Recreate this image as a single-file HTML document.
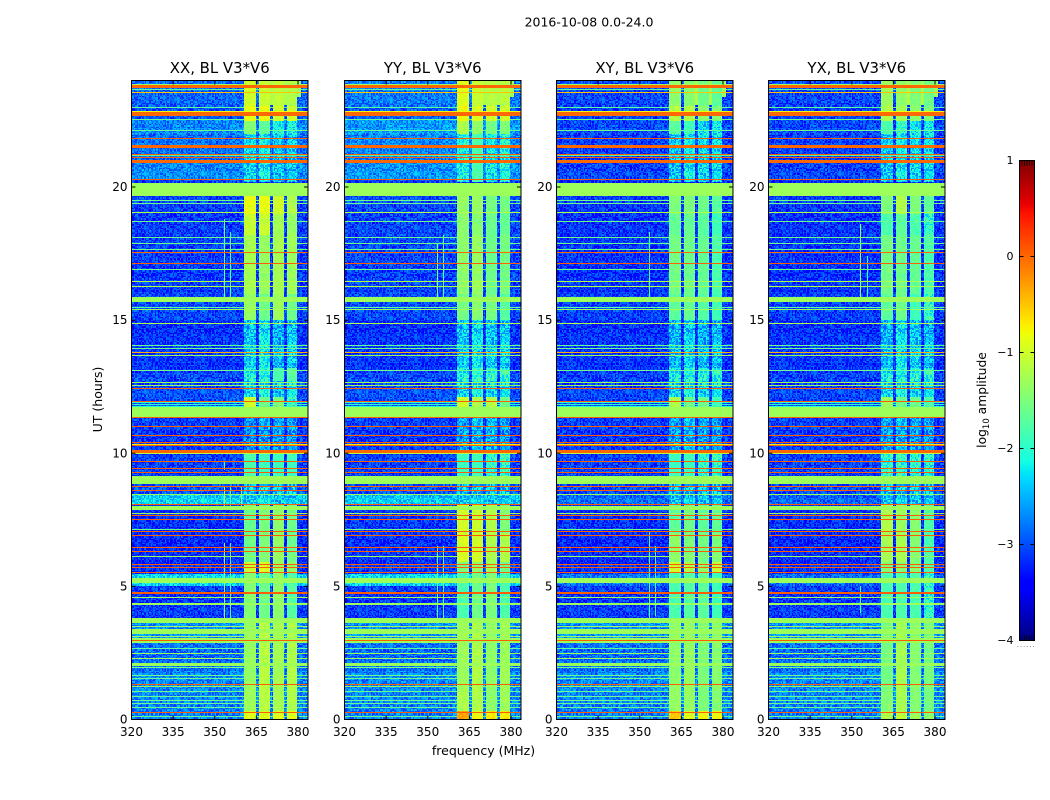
<!DOCTYPE html>
<html lang="en">
<head>
<meta charset="utf-8">
<title>2016-10-08 V3*V6 dynamic spectra</title>
<style>
html,body{margin:0;padding:0;background:#fff;}
#figure{position:relative;width:1050px;height:800px;overflow:hidden;background:#fff;font-family:"DejaVu Sans","Liberation Sans",sans-serif;}
canvas{position:absolute;display:block;image-rendering:pixelated;}
svg{position:absolute;left:0;top:0;}
text{font-family:"DejaVu Sans","Liberation Sans",sans-serif;fill:#000;}
</style>
</head>
<body>
<div id="figure">
<svg id="overlay" width="1050" height="800">
  <text x="589" y="26.5" font-size="12.5" text-anchor="middle">2016-10-08 0.0-24.0</text>
  <text x="483.5" y="755" font-size="12.5" text-anchor="middle">frequency (MHz)</text>
  <text transform="translate(102,399.5) rotate(-90)" font-size="12.5" text-anchor="middle">UT (hours)</text>
  <text transform="translate(986,400) rotate(-90)" font-size="12.3" text-anchor="middle">log<tspan font-size="8.5" dy="3">10</tspan><tspan dy="-3"> amplitude</tspan></text>
  <text x="1026" y="647" font-size="8" letter-spacing="0.6" text-anchor="middle" style="fill:#888">......</text>
</svg>
</div>
<script>
// Panels
const panelTitles = ["XX, BL V3*V6", "YY, BL V3*V6", "XY, BL V3*V6", "YX, BL V3*V6"];
// Axis ticks
const freqTicks = [320, 335, 350, 365, 380];
const utTicks = [0, 5, 10, 15, 20];
const colorbarTicks = [1, 0, -1, -2, -3, -4];
const colorbarMinorTicks = [1, 0.93, 0.86, 0.79, 0.72, -3.72, -3.79, -3.86, -3.93, -4];

// Receiver strips in MHz
const stripStart = [360.5, 365.8, 370.8, 375.9];
const stripEnd = [364.7, 369.7, 374.8, 379.8];

// Time segments [UT high, UT low] for strip levels
const stripSegments = [[24,23.05],[23.05,22.5],[22.5,22],[22,20.2],[19.7,19],[19,18.2],[18.2,16],[16,15],[15,13.2],[13.2,12.7],[12.7,12.1],[12.1,11.7],[11.35,10.05],[10.05,9.1],[8.85,8.1],[8.1,7],[7,5.9],[5.9,5.5],[5.5,3.7],[3.6,1],[1,0.3],[0.3,0]];

// log10 amplitude per strip, one row per segment
const xxStrips = [[-1,-1.05,-1.1,-1.2],[-.85,-.85,-1,-1],[-1.45,-1.7,-2.1,-2.2],[-2.3,-2.2,-2.4,-2.4],[-.85,-.85,-1,-1.2],[-1.05,-1.05,-1.25,-1.35],[-1.25,-1.35,-1.25,-1.3],[-1.35,-1.6,-1.3,-1.6],[-2.4,-2.25,-2.5,-2.4],[-2.1,-2.05,-1.8,-1.7],[-2.3,-2.2,-2.4,-2.2],[-1,-1.6,-1.5,-2],[-2.7,-2.6,-2.6,-2.6],[-1.8,-1.9,-1.9,-1.9],[-2.4,-2.3,-2.4,-2.4],[-1.65,-1.55,-1.4,-1.6],[-1.6,-1.5,-1.35,-1.6],[-1.05,-.95,-1.3,-1.4],[-1.45,-1.6,-1.4,-1.75],[-1.35,-1.15,-1.25,-1.2],[-1.3,-1.15,-1.25,-1.2],[-.9,-.9,-.9,-.9]];
const yyStrips = [[-.9,-1.05,-1.15,-1.15],[-.8,-.95,-1,-1],[-1.2,-1.4,-1.55,-1.5],[-2.1,-1.8,-2.2,-2.1],[-1.35,-1.35,-1.55,-1.55],[-1.4,-1.45,-1.6,-1.65],[-1.4,-1.35,-1.6,-1.55],[-1.55,-1.45,-1.55,-1.75],[-2.4,-2.3,-2.4,-2.4],[-2.1,-1.95,-1.95,-1.95],[-2.3,-2.2,-2.3,-2.3],[-1,-1.2,-1.15,-1.6],[-2.6,-2.5,-2.5,-2.6],[-1.9,-1.9,-2,-2],[-2.4,-2.4,-2.4,-2.4],[-1,-1.05,-1.2,-1.5],[-.95,-1,-1.2,-1.2],[-1.5,-1.4,-1.3,-1.6],[-1.8,-1.6,-1.5,-1.8],[-1.3,-1.2,-1.4,-1.3],[-1.2,-1.2,-1.4,-1.3],[-.3,-.8,-.7,-.7]];
const xyStrips = [[-1.4,-1.45,-1.6,-1.7],[-1.15,-1.2,-1.4,-1.5],[-1.7,-1.9,-2.3,-2.3],[-2.4,-2.2,-2.3,-2.3],[-1.5,-1.5,-1.6,-1.75],[-1.65,-1.65,-1.7,-1.9],[-1.55,-1.6,-1.65,-1.8],[-1.7,-1.65,-1.75,-1.9],[-2.5,-2.4,-2.5,-2.5],[-2.15,-2.05,-2.05,-2.05],[-2.3,-2.2,-2.3,-2.3],[-1.2,-1.6,-1.6,-1.9],[-2.6,-2.5,-2.6,-2.6],[-1.9,-1.9,-2,-2],[-2.4,-2.4,-2.4,-2.4],[-1.7,-1.6,-1.7,-1.7],[-1.4,-1.5,-1.55,-1.5],[-1,-1.2,-1.4,-1.1],[-1.8,-1.75,-1.7,-1.9],[-1.4,-1.35,-1.5,-1.45],[-1.35,-1.35,-1.5,-1.45],[-.5,-.9,-.8,-.8]];
const yxStrips = [[-1.3,-1.4,-1.5,-1.6],[-1.2,-1.3,-1.4,-1.5],[-1.8,-2,-2.2,-2.3],[-2.4,-2.2,-2.3,-2.3],[-1.5,-1.2,-1.5,-1.7],[-1.8,-1.7,-1.8,-2],[-1.55,-1.6,-1.65,-1.8],[-1.7,-1.6,-1.9,-2],[-2.5,-2.3,-2.4,-2.5],[-2.15,-2.1,-2.05,-2],[-2.3,-2.2,-2.3,-2.3],[-1.3,-1.6,-1.6,-1.8],[-2.6,-2.5,-2.6,-2.6],[-2,-2,-2.05,-2.1],[-2.4,-2.4,-2.4,-2.4],[-1.2,-1.35,-1.45,-1.8],[-1.25,-1.25,-1.45,-1.8],[-1.45,-1.45,-1.45,-1.8],[-1.8,-1.8,-1.8,-2],[-1.55,-1.25,-1.45,-1.55],[-1.45,-1.25,-1.45,-1.55],[-1.2,-1.1,-1.3,-1.4]];

// Background level: [UT high, UT low, XX, YY, XY, YX]
const floorLevels = [[24,23,-2.9,-2.8,-3.05,-3.05],[23,22.55,-3,-2.95,-3.1,-3.1],[22.55,22,-2.75,-2.65,-3.05,-3.05],[22,21,-2.85,-2.75,-3.1,-3.1],[21,20.3,-2.7,-2.65,-3.05,-3.05],[20.3,19.7,-3.05,-3.05,-3.15,-3.15],[19.7,16,-3.1,-3.05,-3.15,-3.15],[16,15,-3.05,-3.05,-3.1,-3.1],[15,13,-3.15,-3.15,-3.15,-3.15],[13,11.7,-3,-3,-3.05,-3.05],[11.7,9.1,-3.1,-3.1,-3.1,-3.1],[9.1,8.42,-2.95,-2.95,-3,-3],[8.42,8.1,-2.35,-2.4,-2.85,-2.9],[8.1,5.45,-3.2,-3.15,-3.2,-3.2],[5.45,5,-2.35,-2.35,-2.85,-2.9],[5,3.6,-3.1,-3.1,-3.1,-3.1],[3.6,3,-2.7,-2.7,-2.7,-2.7],[3,1.8,-2.85,-2.85,-2.85,-2.85],[1.8,0,-2.75,-2.75,-2.75,-2.75]];

// Broadband RFI: [UT high, UT low, log10 amplitude]
const rfiBands = [[23.82,23.74,0],[22.8,22.75,0],[22.73,22.69,0],[21.57,21.49,0],[21,20.93,0],[20.16,19.71,-1.3],[15.86,15.7,-1.3],[11.7,11.37,-1.3],[10.11,10.03,0],[9.12,8.85,-1.3],[8,7.88,-1.3],[5.28,5.13,-1.3],[4.77,4.72,.05],[4.35,4.3,-1.3],[3.78,3.63,-1.3],[3.36,3.27,-1.3],[3.03,2.87,-1.3],[2.07,2,-1.3]];

// Single-row RFI lines: [UT, log10 amplitude]
const rfiLines = [[23.86,-1.3],[23.67,-1.7],[23.56,-.5],[23.02,-1.7],[22.85,-.8],[22.56,-1.6],[22.12,-1.6],[21.82,.05],[21.25,.05],[21.18,-1.7],[21.12,.05],[20.31,.05],[19.49,-1.6],[19.41,-1.6],[19.07,-1.2],[18.73,-1.6],[18.13,-1.6],[17.9,-1.6],[17.65,-1.6],[17.54,0],[17.14,.05],[16.92,-1.6],[16.44,-1.2],[16.28,-1.2],[15.48,-1.7],[15.39,-1.3],[14.88,-1.2],[14.05,-1.6],[13.95,-1.6],[13.77,-.4],[13.67,-1.3],[13.1,-1.6],[12.64,-1.3],[12.54,-1.3],[12.42,.05],[11.96,.05],[11.9,-2],[11.82,-2],[11.75,-2],[11.36,.05],[11.02,.05],[10.68,.05],[10.39,.05],[10.34,-.7],[10.28,.05],[9.98,-1.1],[9.69,.05],[9.41,.05],[9.27,.05],[8.73,.05],[8.59,.05],[8.44,-1.3],[8.08,.05],[7.74,-1.3],[7.66,.05],[7.49,.05],[7.12,-1.6],[7.04,.05],[6.89,.05],[6.44,.05],[6.29,.05],[6.1,-1.3],[5.83,.05],[5.71,.05],[5.5,.05],[4.56,-1.3],[3.48,-1.3],[3.2,-1.3],[3.12,-1.3],[2.95,.05],[2.65,-1.7],[2.46,-1.3],[2.27,-1.3],[1.94,-1.6],[1.65,-1.6],[1.52,-1.6],[1.31,.05],[1.23,-1.3],[1.05,-1.6],[.86,-1.6],[.7,-1.6],[.57,-1.6],[.42,-1.6],[.23,.05],[.11,-1.6]];

// Narrow-band lines: [panel, MHz, UT high, UT low, level]
const narrowLines = [[0,353.3,18.8,15.9,-1.6],[0,355.7,18.3,15.9,-1.7],[0,353.3,6.6,3.65,-1.4],[0,355.7,6.6,3.65,-1.7],[0,353.3,8.7,8.05,-1.3],[0,355.7,8.7,8.05,-1.7],[0,359.7,8.7,8.05,-1.5],[0,353.3,9.7,9.4,-1.7],[1,353.5,17.9,15.9,-1.5],[1,355.7,18.2,15.9,-1.7],[1,353.5,6.5,3.7,-1.7],[1,355.7,6.5,3.7,-1.7],[2,353.3,18.3,15.9,-1.8],[2,353.3,7,3.7,-1.8],[2,355.7,6.5,3.9,-1.8],[3,353.1,18.6,15.9,-1.4],[3,355.7,17.4,15.9,-1.9],[3,353.1,5,4,-1.8]];

// Small regions: [UT high, UT low, MHz low, MHz high, level]
const topPatches = [[24,23.1,369.7,370.8,-1.2],[24,23.1,374.8,375.9,-1.2],[24,23.4,379.8,381,-1.3]];

// Hand-typed speckle table for the pixel-level grain
const speckle = [.6,-.9,.2,1,-.4,-.7,.8,-.1,.4,-1,.5,.1,-.6,.9,-.3,-.8,.3,.7,-.5,0,1,-.2,-.9,.6,.1,-.7,.4,-.4,.9,-.6,.2,.7,-1,.3,-.1,.8,-.5,.5,-.8,.1,.6];

const stripTables = [xxStrips, yyStrips, xyStrips, yxStrips];

// Geometry
const panelLeft = [131.5, 344.5, 556.5, 768.5];
const panelWidth = 176.5;
const plotTop = 80.5;
const plotBottom = 719.5;
const gridCols = 176;
const gridRows = 638;
const figure = document.getElementById('figure');
const overlay = document.getElementById('overlay');
const NS = 'http://www.w3.org/2000/svg';

function xScale(panel, mhz) { return panelLeft[panel] + (mhz - 320) * 2.775; }
function yScale(ut) { return plotBottom - (ut / 24) * (plotBottom - plotTop); }
function mhzOfCol(c) { return 320 + ((c + 0.5) / gridCols) * panelWidth / 2.775; }
function rowOfUT(ut) { return Math.min(gridRows - 1, Math.max(0, Math.floor((24 - ut) / 24 * gridRows))); }
function utOfRow(r) { return 24 - (r + 0.5) / gridRows * 24; }
function clamp01(v) { return Math.max(0, Math.min(1, v)); }
function jet(t) {
  const r = t < .35 ? 0 : t < .66 ? (t - .35) / .31 : t < .89 ? 1 : 1 - (t - .89) / .11 * .5;
  const g = t < .125 ? 0 : t < .375 ? (t - .125) / .25 : t < .64 ? 1 : t < .91 ? 1 - (t - .64) / .27 : 0;
  const b = t < .11 ? .5 + t / .11 * .5 : t < .34 ? 1 : t < .65 ? 1 - (t - .34) / .31 : 0;
  return [r * 255, g * 255, b * 255];
}
function colorOf(level) { return jet(clamp01((level + 4) / 5)); }

function drawHeatmap(panel) {
  const grid = new Float32Array(gridCols * gridRows);
  const strips = stripTables[panel];
  for (let r = 0; r < gridRows; r++) {
    const ut = utOfRow(r);
    let floor = -3;
    floorLevels.forEach(function (seg) { if (ut <= seg[0] && ut > seg[1]) floor = seg[2 + panel]; });
    let seg = -1;
    stripSegments.forEach(function (s, i) { if (ut <= s[0] && ut > s[1]) seg = i; });
    const gr = Math.floor(r / 1.33);
    for (let c = 0; c < gridCols; c++) {
      const mhz = mhzOfCol(c);
      let level = floor, amp = .35;
      if (seg >= 0) {
        stripStart.forEach(function (start, i) {
          if (mhz >= start && mhz < stripEnd[i]) {
            level = strips[seg][i];
            amp = level < -1.9 ? .42 : .12;
          }
        });
      }
      const gc = Math.floor(c / 1.4);
      const grain = speckle[(gc * gc * 3 + gr * gr * 5 + gc * gr) % speckle.length];
      grid[r * gridCols + c] = level + grain * amp;
    }
  }
  topPatches.forEach(function (p) {
    for (let r = rowOfUT(p[0]); r <= rowOfUT(p[1]); r++) {
      for (let c = 0; c < gridCols; c++) {
        const mhz = mhzOfCol(c);
        if (mhz >= p[2] && mhz < p[3]) grid[r * gridCols + c] = p[4];
      }
    }
  });
  rfiBands.forEach(function (b) {
    for (let r = rowOfUT(b[0]); r <= rowOfUT(b[1]); r++) {
      for (let c = 0; c < gridCols; c++) grid[r * gridCols + c] = b[2];
    }
  });
  rfiLines.forEach(function (line) {
    const r = rowOfUT(line[0]);
    for (let c = 0; c < gridCols; c++) grid[r * gridCols + c] = Math.max(line[1], grid[r * gridCols + c]);
  });
  narrowLines.forEach(function (n) {
    if (n[0] !== panel) return;
    const c = Math.floor((n[1] - 320) * 2.775 / panelWidth * gridCols);
    for (let r = rowOfUT(n[2]); r <= rowOfUT(n[3]); r++) grid[r * gridCols + c] = Math.max(n[4], grid[r * gridCols + c]);
  });

  const cv = document.createElement('canvas');
  
  
  cv.width = gridCols;
  cv.height = gridRows;
  cv.style.left = Math.round(panelLeft[panel]) + 'px';
  cv.style.top = '81px';
  cv.style.width = gridCols + 'px';
  cv.style.height = gridRows + 'px';
  const ctx = cv.getContext('2d');
  const img = ctx.createImageData(gridCols, gridRows);
  for (let i = 0; i < grid.length; i++) {
    const col = colorOf(grid[i]);
    img.data[i * 4] = col[0];
    img.data[i * 4 + 1] = col[1];
    img.data[i * 4 + 2] = col[2];
    img.data[i * 4 + 3] = 255;
  }
  ctx.putImageData(img, 0, 0);
  figure.insertBefore(cv, overlay);
}

function addLine(x1, y1, x2, y2, width, name) {
  const l = document.createElementNS(NS, 'line');
  l.setAttribute('x1', x1);
  l.setAttribute('y1', y1);
  l.setAttribute('x2', x2);
  l.setAttribute('y2', y2);
  l.setAttribute('stroke', '#000');
  l.setAttribute('stroke-width', width);
  
  
  overlay.appendChild(l);
}
function addText(x, y, str, anchor, size, name) {
  const t = document.createElementNS(NS, 'text');
  t.setAttribute('x', x);
  t.setAttribute('y', y);
  t.setAttribute('text-anchor', anchor);
  t.setAttribute('font-size', size);
  
  
  t.textContent = str;
  overlay.appendChild(t);
}

panelTitles.forEach(function (title, p) {
  drawHeatmap(p);
  const key = title.slice(0, 2).toLowerCase();
  const f = document.createElementNS(NS, 'rect');
  f.setAttribute('x', panelLeft[p]);
  f.setAttribute('y', plotTop);
  f.setAttribute('width', panelWidth);
  f.setAttribute('height', plotBottom - plotTop);
  f.setAttribute('fill', 'none');
  f.setAttribute('stroke', '#000');
  f.setAttribute('stroke-width', '1');
  
  
  overlay.appendChild(f);
  addText(panelLeft[p] + panelWidth / 2, 73, title, 'middle', 14.9, 'panel-title-' + key);
  freqTicks.forEach(function (v) {
    const x = xScale(p, v);
    addLine(x, plotBottom, x, plotBottom - 4, 1, 'x-tick-' + key + '-' + v);
    addLine(x, plotTop, x, plotTop + 4, 1, 'x-tick-top-' + key + '-' + v);
    addText(x, 736, String(v), 'middle', 12, 'x-tick-label-' + key + '-' + v);
  });
  utTicks.forEach(function (v) {
    const y = yScale(v);
    addLine(panelLeft[p], y, panelLeft[p] + 4, y, 1, 'y-tick-' + key + '-' + v);
    addLine(panelLeft[p] + panelWidth, y, panelLeft[p] + panelWidth - 4, y, 1, 'y-tick-right-' + key + '-' + v);
    addText(panelLeft[p] - 4, y + 4, String(v), 'end', 12, 'y-tick-label-' + key + '-' + v);
  });
});

// Colorbar
const cbLeft = 1019.5, cbWidth = 15, cbTop = 160.5, cbBottom = 640.5;
function cbScale(v) { return cbBottom - (v + 4) / 5 * (cbBottom - cbTop); }
const cb = document.createElement('canvas');


cb.width = 1;
cb.height = 480;
cb.style.left = cbLeft + 'px';
cb.style.top = cbTop + 'px';
cb.style.width = cbWidth + 'px';
cb.style.height = (cbBottom - cbTop) + 'px';
const cbCtx = cb.getContext('2d');
for (let i = 0; i < 480; i++) {
  const col = jet(1 - (i + .5) / 480);
  cbCtx.fillStyle = 'rgb(' + col.map(Math.round).join(',') + ')';
  cbCtx.fillRect(0, i, 1, 1);
}
figure.insertBefore(cb, overlay);
const cbFrame = document.createElementNS(NS, 'rect');
cbFrame.setAttribute('x', cbLeft);
cbFrame.setAttribute('y', cbTop);
cbFrame.setAttribute('width', cbWidth);
cbFrame.setAttribute('height', cbBottom - cbTop);
cbFrame.setAttribute('fill', 'none');
cbFrame.setAttribute('stroke', '#000');
cbFrame.setAttribute('stroke-width', '1');


overlay.appendChild(cbFrame);
colorbarTicks.forEach(function (v) {
  const y = cbScale(v);
  addLine(cbLeft, y, cbLeft + 4, y, 1, 'colorbar-tick-' + v);
  addLine(cbLeft + cbWidth, y, cbLeft + cbWidth - 4, y, 1, 'colorbar-tick-right-' + v);
  addText(1013.5, y + 3.5, v < 0 ? '\u2212' + Math.abs(v) : String(v), 'end', 11, 'colorbar-tick-label-' + v);
});
colorbarMinorTicks.forEach(function (v, i) {
  const y = v > 0 ? cbTop : cbBottom;
  const dir = v > 0 ? 5 : -5;
  const x = cbLeft + 2.5 * ((i % 5) + 1);
  addLine(x, y, x, y + dir, .8, 'colorbar-minor-tick-' + i);
});
</script>
</body>
</html>
